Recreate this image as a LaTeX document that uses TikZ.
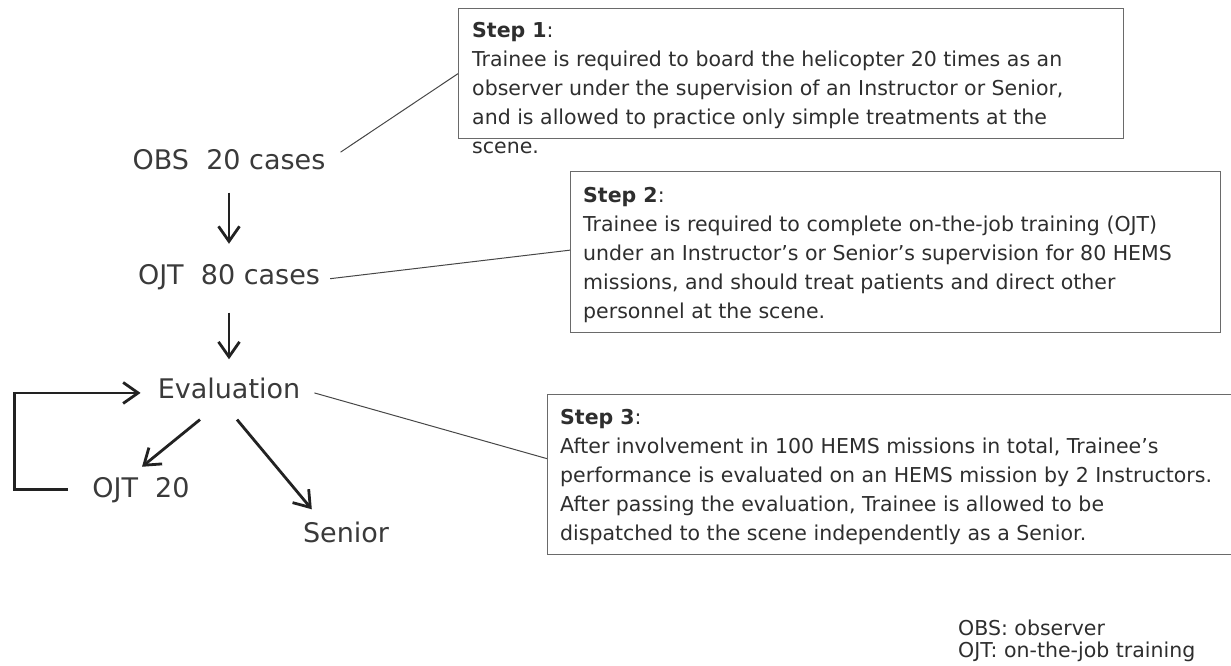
\documentclass[tikz,border=0pt]{standalone}
\usepackage{fontspec}
\setmainfont{DejaVu Sans}
\usetikzlibrary{arrows.meta}
\definecolor{txt}{HTML}{2E2E2E}
\definecolor{lbltxt}{HTML}{3A3A3A}
\definecolor{boxcol}{HTML}{6A6A6A}
\definecolor{linkcol}{HTML}{474747}
\definecolor{arrcol}{HTML}{222222}
\begin{document}
\begin{tikzpicture}[x=1pt,y=-1pt,
  lbl/.style={anchor=base, inner sep=0pt, text=lbltxt, font=\fontsize{27}{32}\selectfont},
  stepbox/.style={draw=boxcol, line width=1.3pt, anchor=north west, inner sep=0pt},
  body/.style={anchor=base west, inner sep=0pt, text=txt, font=\fontsize{20.5}{29}\selectfont},
  legend/.style={anchor=base west, inner sep=0pt, text=txt, font=\fontsize{20.5}{22}\selectfont},
  arr/.style={draw=arrcol, line width=2.8pt, -{Straight Barb[length=15pt,width=21pt]}},
  link/.style={draw=linkcol, line width=1pt}]
\useasboundingbox (0,0) rectangle (1231,666);

% flow labels
\node[lbl] (obs) at (229,169) {OBS\ \ 20 cases};
\node[lbl] (ojt) at (229,284) {OJT\ \ 80 cases};
\node[lbl] (eval) at (229,398) {Evaluation};
\node[lbl] (ojt20) at (141,497) {OJT\ \ 20};
\node[lbl] (senior) at (346,542) {Senior};

% step boxes
\node[stepbox, minimum width=665pt, minimum height=130pt] (s1) at (458,8) {};
\node[stepbox, minimum width=650pt, minimum height=161pt] (s2) at (570,171) {};
\node[stepbox, minimum width=688pt, minimum height=160pt] (s3) at (547,394) {};

\node[body] (t1) at (472,38) {\vtop{%
  \hbox{\textbf{Step 1}:}
  \hbox{Trainee is required to board the helicopter 20 times as an}
  \hbox{observer under the supervision of an Instructor or Senior,}
  \hbox{and is allowed to practice only simple treatments at the}
  \hbox{scene.}}};
\node[body] (t2) at (583,202) {\vtop{%
  \hbox{\textbf{Step 2}:}
  \hbox{Trainee is required to complete on-the-job training (OJT)}
  \hbox{under an Instructor’s or Senior’s supervision for 80 HEMS}
  \hbox{missions, and should treat patients and direct other}
  \hbox{personnel at the scene.}}};
\node[body] (t3) at (560,424) {\vtop{%
  \hbox{\textbf{Step 3}:}
  \hbox{After involvement in 100 HEMS missions in total, Trainee’s}
  \hbox{performance is evaluated on an HEMS mission by 2 Instructors.}
  \hbox{After passing the evaluation, Trainee is allowed to be}
  \hbox{dispatched to the scene independently as a Senior.}}};

\node[legend] (leg) at (958,635) {\vtop{%
  \hbox{OBS: observer}
  \hbox{OJT: on-the-job training}}};

% arrows
\draw[arr] (obs.south) ++(0,23) -- ([yshift=20pt]ojt.north);
\draw[arr] (ojt.south) ++(0,23) -- ([yshift=18pt]eval.north);
\draw[arr] ([xshift=-29pt,yshift=-21pt]eval.south) -- ([xshift=1pt,yshift=10pt]ojt20.north);
\draw[arr] ([xshift=8pt,yshift=-21pt]eval.south) -- ([xshift=9pt,yshift=12pt]senior.north west);
\draw[arr, line join=miter] ([xshift=-24pt]ojt20.west) -- ++(-54,0) |- ([xshift=-17pt,yshift=-5pt]eval.west);

% connectors
\draw[link] ([xshift=15pt,yshift=7pt]obs.east) -- (s1.west);
\draw[link] ([xshift=10pt,yshift=-2pt]ojt.east) -- ([yshift=2pt]s2.west);
\draw[link] ([xshift=14pt,yshift=-5pt]eval.east) -- ([yshift=16pt]s3.west);
\end{tikzpicture}
\end{document}
